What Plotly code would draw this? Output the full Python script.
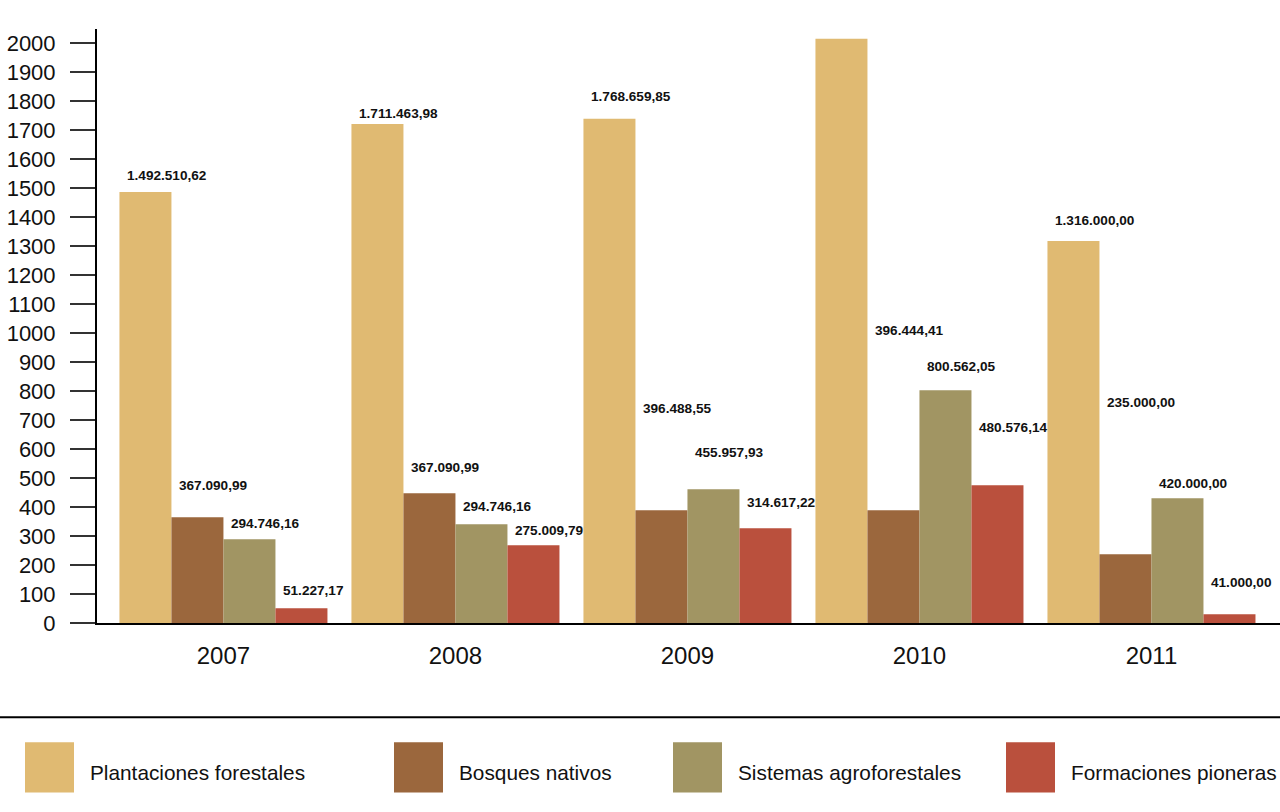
import plotly.graph_objects as go

years = ["2007", "2008", "2009", "2010", "2011"]
series_names = ["Plantaciones forestales", "Bosques nativos", "Sistemas agroforestales", "Formaciones pioneras"]
colors = ["#E0BA72", "#9B673D", "#A19563", "#BA503D"]

plantaciones = [1487, 1721, 1739, 2015, 1318]
bosques = [365, 448, 389, 389, 237]
sistemas = [289, 341, 461, 803, 430]
formaciones = [51, 268, 327, 475, 30]

lab_plantaciones = ["1.492.510,62", "1.711.463,98", "1.768.659,85", "2.011.597,62", "1.316.000,00"]
lab_bosques = ["367.090,99", "367.090,99", "396.488,55", "396.444,41", "235.000,00"]
lab_sistemas = ["294.746,16", "294.746,16", "455.957,93", "800.562,05", "420.000,00"]
lab_formaciones = ["51.227,17", "275.009,79", "314.617,22", "480.576,14", "41.000,00"]

# vertical placement of the value labels (axis units)
laby_plantaciones = [1545, 1759, 1815, 2077, 1387]
laby_bosques = [475, 537, 741, 1010, 762]
laby_sistemas = [344, 403, 589, 886, 482]
laby_formaciones = [113, 320, 417, 676, 140]

yticks = list(range(0, 2001, 100))

values = [plantaciones, bosques, sistemas, formaciones]
labels = [lab_plantaciones, lab_bosques, lab_sistemas, lab_formaciones]
label_y = [laby_plantaciones, laby_bosques, laby_sistemas, laby_formaciones]

W, H = 1280, 812
ML, MR, MT = 97, 0, 29
PLOT_BOTTOM = 622.7
MB = H - PLOT_BOTTOM
PW = W - ML - MR
PH = PLOT_BOTTOM - MT

def px_x(px):
    return (px - ML) / PW

def px_y(py):
    return (PLOT_BOTTOM - py) / PH

FONT = "Liberation Sans, Arial, sans-serif"

xs = list(range(len(years)))
fig = go.Figure()
for name, vals, col in zip(series_names, values, colors):
    fig.add_trace(go.Bar(x=xs, y=vals, name=name, marker=dict(color=col, line=dict(width=0)),
                         showlegend=False, hoverinfo="y+name"))

bargap = 0.1034
group_w = 1 - bargap
bar_w = group_w / len(series_names)
annotations = []
for j in range(len(series_names)):
    for i in range(len(years)):
        annotations.append(dict(
            x=i - group_w / 2 + j * bar_w + 0.022, y=label_y[j][i], xref="x", yref="y",
            text="<b>" + labels[j][i] + "</b>", showarrow=False, xanchor="left", yanchor="middle",
            font=dict(family=FONT, size=13.6, color="#111111")))

# custom legend
shapes = [dict(type="line", xref="paper", yref="paper", x0=px_x(0), x1=px_x(W),
               y0=px_y(717), y1=px_y(717), line=dict(color="#000000", width=2))]
legend_box_x = [25, 394, 673, 1006]
for k, (name, col) in enumerate(zip(series_names, colors)):
    bx = legend_box_x[k]
    shapes.append(dict(type="rect", xref="paper", yref="paper",
                       x0=px_x(bx), x1=px_x(bx + 49), y0=px_y(792), y1=px_y(742),
                       fillcolor=col, line=dict(width=0)))
    annotations.append(dict(x=px_x(bx + 63), y=px_y(772), xref="paper", yref="paper",
                            text=name, showarrow=False, xanchor="left", yanchor="middle",
                            font=dict(family=FONT, size=20.8, color="#111111")))

fig.update_layout(
    width=W, height=H,
    margin=dict(l=ML, r=MR, t=MT, b=MB, pad=0),
    paper_bgcolor="white", plot_bgcolor="white",
    barmode="group", bargap=bargap, bargroupgap=0,
    annotations=annotations, shapes=shapes,
    xaxis=dict(range=[-0.545, 4.554], tickvals=xs, ticktext=years, showgrid=False,
               showline=True, linecolor="#000000", linewidth=2, ticks="", zeroline=False,
               tickfont=dict(family=FONT, size=24, color="#111111"), ticklabelstandoff=10),
    yaxis=dict(range=[0, 2049], tickvals=yticks, ticktext=[str(v) for v in yticks], showgrid=False,
               showline=True, linecolor="#000000", linewidth=2, ticks="outside", ticklen=25,
               tickwidth=2, tickcolor="#333333", zeroline=False,
               tickfont=dict(family=FONT, size=22, color="#111111"), ticklabelstandoff=10),
)

fig.write_html("out.html", config={"displayModeBar": False},
               post_script="document.body.style.margin='0px';document.body.style.overflow='hidden';")
